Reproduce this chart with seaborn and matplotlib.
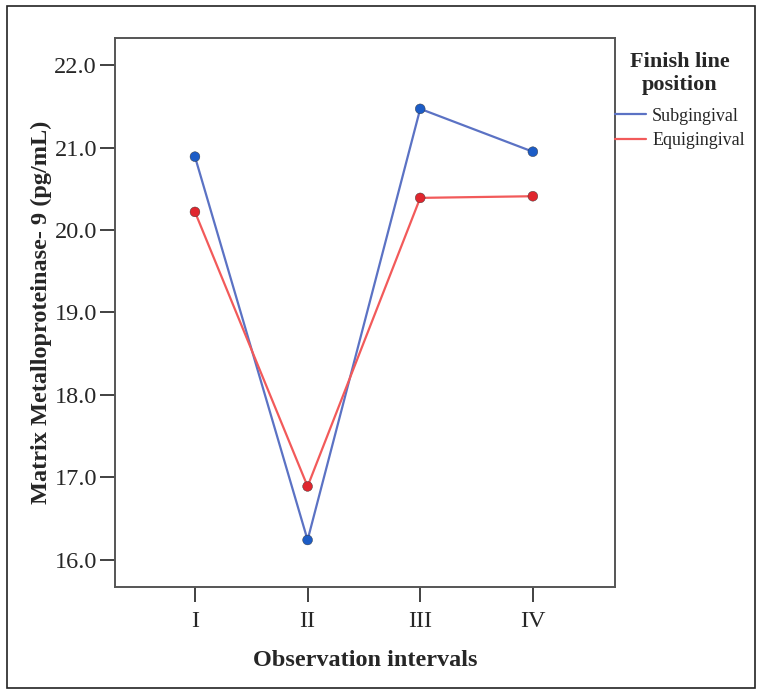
import pandas as pd
import matplotlib.pyplot as plt
import seaborn as sns
from matplotlib.patches import Rectangle

intervals = ["I", "II", "III", "IV"]
subgingival = [20.89, 16.24, 21.47, 20.95]
equigingival = [20.22, 16.89, 20.39, 20.41]
groups = ["Subgingival", "Equigingival"]
y_ticks = [16.0, 17.0, 18.0, 19.0, 20.0, 21.0, 22.0]

df = pd.DataFrame({
    "interval": intervals * 2,
    "value": subgingival + equigingival,
    "group": [groups[0]] * 4 + [groups[1]] * 4,
})

sns.set_style("white")
plt.rcParams["font.family"] = ["Liberation Serif", "DejaVu Serif"]

line_colors = {"Subgingival": "#5b72c4", "Equigingival": "#f25a5a"}
dot_colors = {"Subgingival": "#1c5cc6", "Equigingival": "#e0262e"}

fig = plt.figure(figsize=(7.6, 6.9), dpi=100)
ax = fig.add_axes([0.1513, 0.1493, 0.658, 0.7957])

sns.lineplot(data=df, x="interval", y="value", hue="group", palette=line_colors,
             linewidth=1.6, sort=False, ax=ax)
sns.scatterplot(data=df, x="interval", y="value", hue="group", palette=dot_colors,
                s=50, edgecolor="#333333", linewidth=0.3, legend=False, ax=ax, zorder=3)

ax.set_xlim(-0.71, 3.73)
ax.set_ylim(15.67, 22.33)
ax.set_yticks(y_ticks)
ax.set_yticklabels([f"{v:.1f}" for v in y_ticks])

for sp in ax.spines.values():
    sp.set_color("#555555")
    sp.set_linewidth(1.4)
ax.tick_params(axis="both", direction="out", length=11, width=1.3, color="#333333",
               labelsize=17.5, pad=2, left=True, bottom=True)
ax.tick_params(axis="x", pad=6)

ax.set_xlabel("Observation intervals", fontsize=17.5, fontweight="bold", labelpad=13)
ax.set_ylabel("Matrix Metalloproteinase- 9 (pg/mL)", fontsize=17.5, fontweight="bold", labelpad=2)

handles, labels = ax.get_legend_handles_labels()
leg = ax.legend(handles, labels, title="Finish line\nposition", frameon=False,
                loc="upper left", bbox_to_anchor=(1.0, 0.974), fontsize=13,
                title_fontproperties={"weight": "bold", "size": 16},
                handlelength=1.7, handletextpad=0.35, borderaxespad=0, borderpad=0,
                labelspacing=0.4)
leg._legend_box.align = "center"
leg._legend_box.sep = 9
leg.get_title().set_multialignment("center")

fig.patches.append(Rectangle((0.0092, 0.003), 0.984, 0.988, transform=fig.transFigure,
                             fill=False, edgecolor="#222222", linewidth=1.2))

fig.savefig("out.png", dpi=100)
